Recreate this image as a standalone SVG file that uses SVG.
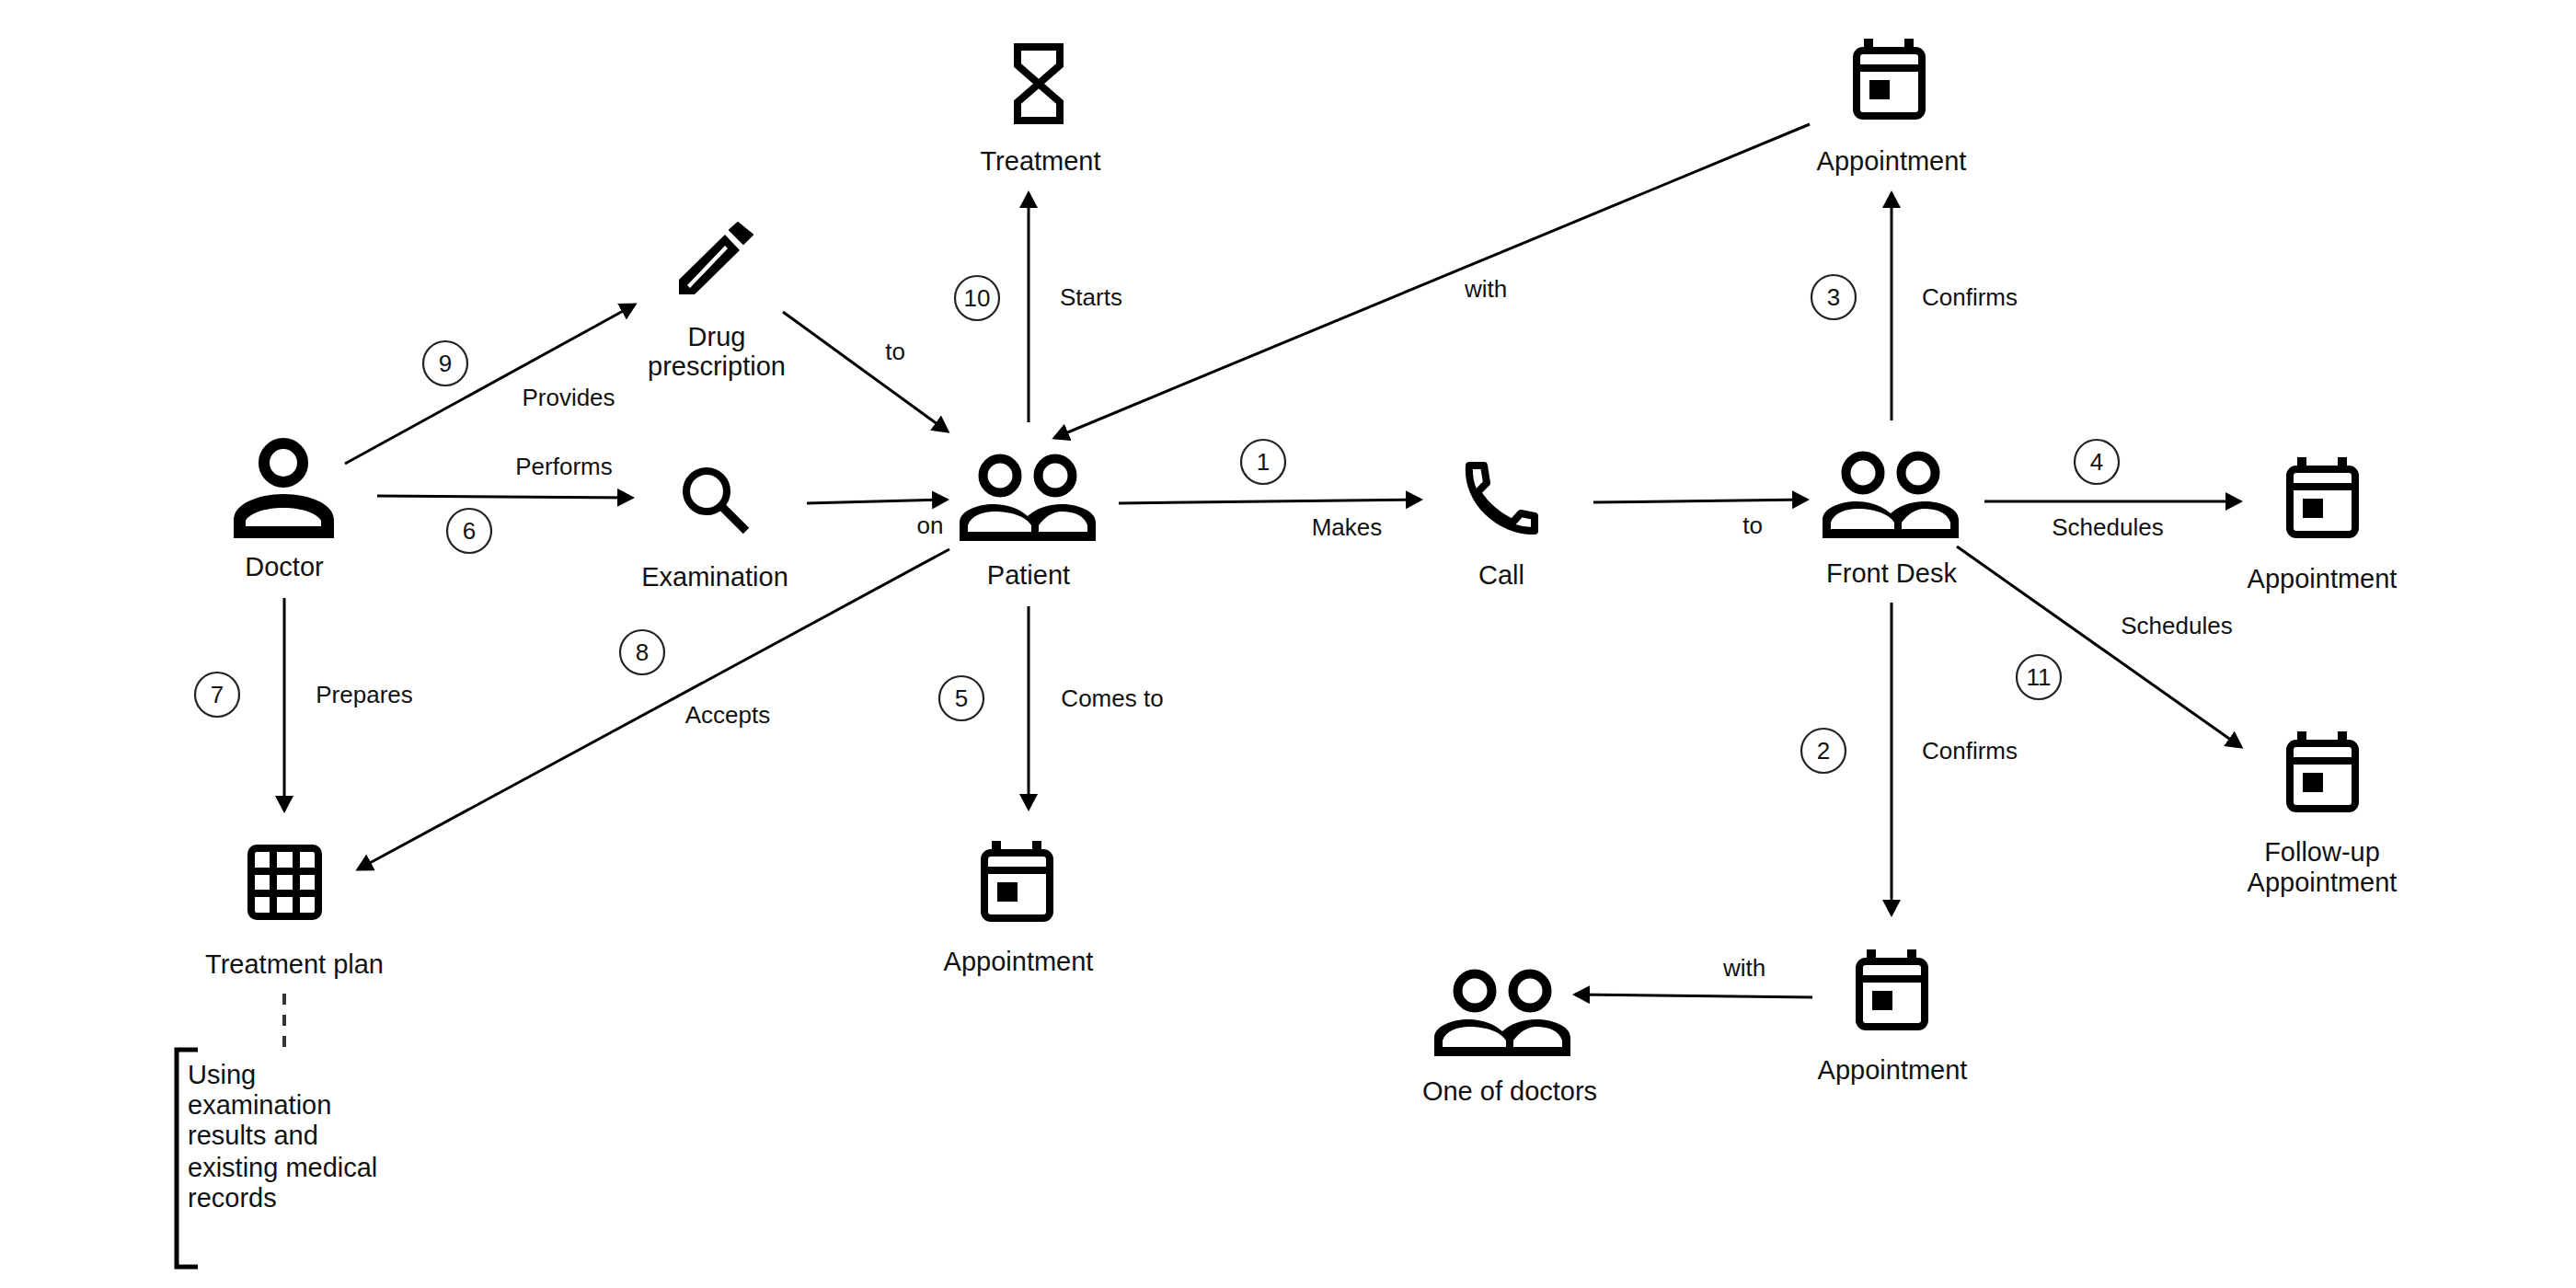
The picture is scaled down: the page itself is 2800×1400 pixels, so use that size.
<svg xmlns="http://www.w3.org/2000/svg" width="2800" height="1400" viewBox="0 0 2800 1400">
<style>
text{font-family:"Liberation Sans",Arial,sans-serif;fill:#111}
.n{font-size:29px;text-anchor:middle}
.l{font-size:26px;text-anchor:middle}
.b{font-size:26px;text-anchor:middle}
.c{fill:none;stroke:#000;stroke-width:3;marker-end:url(#a)}
.k{fill:none;stroke:#222;stroke-width:2.2}
</style>
<defs>
<marker id="a" markerUnits="userSpaceOnUse" markerWidth="22" markerHeight="22" refX="16" refY="10" orient="auto"><path d="M0 0L19 10L0 20Z" fill="#000"/></marker>
<g id="cal">
<rect x="4" y="13" width="71" height="71" rx="7" fill="none" stroke="#000" stroke-width="8"/>
<rect x="4" y="28" width="71" height="8" fill="#000"/>
<rect x="12" y="0" width="10" height="14" fill="#000"/>
<rect x="56" y="0" width="10" height="14" fill="#000"/>
<rect x="18" y="45" width="22" height="21" fill="#000"/>
</g>
<g id="users">
<circle cx="44" cy="24" r="18.5" fill="none" stroke="#000" stroke-width="10"/>
<circle cx="104" cy="24" r="18.5" fill="none" stroke="#000" stroke-width="10"/>
<path fill-rule="evenodd" d="M0 95V75C0 62 20 55 37 55C52 55 65 60 74 68C83 60 96 55 111 55C128 55 148 62 148 75V95ZM9 85H78V78C72 68 55 63 38 63C25 63 12 68 9 78ZM86 85H139V78C136 68 125 63 111 63C100 63 92 70 86 78Z" fill="#000"/>
</g>
</defs>
<g id="connectors">
<path class="c" d="M375 504L690 331"/>
<path class="c" d="M410 539L687 541"/>
<path class="c" d="M877 547L1029 543"/>
<path class="c" d="M851 339L1030 469"/>
<path class="c" d="M309 650V881"/>
<path class="c" d="M1032 597L389 945"/>
<path class="c" d="M1118 459V210"/>
<path class="c" d="M1118 659V879"/>
<path class="c" d="M1967 135L1146 476"/>
<path class="c" d="M1216 547L1544 543"/>
<path class="c" d="M1732 546L1964 543"/>
<path class="c" d="M2056 457V210"/>
<path class="c" d="M2157 545H2435"/>
<path class="c" d="M2127 594L2436 812"/>
<path class="c" d="M2056 655V994"/>
<path class="c" d="M1970 1084L1712 1081"/>
<path d="M309 1080V1140" fill="none" stroke="#333" stroke-width="4" stroke-dasharray="12 11"/>
</g>
<g id="doctor">
<circle cx="308" cy="503" r="21" fill="none" stroke="#000" stroke-width="12"/>
<path fill-rule="evenodd" d="M254 585V565C254 548 280 537 308 537C337 537 363 548 363 565V585ZM267 572H349V566C345 558 328 552 308 552C288 552 271 558 267 566Z" fill="#000"/>
<text class="n" x="309" y="626">Doctor</text>
</g>
<g id="drug">
<path fill-rule="evenodd" d="M738 320V304L788 255L804 272L755 320ZM747 310L750 313L791 270L788 267Z" fill="#000"/>
<path d="M802 242L818 255L808 265L793 250Z" fill="#000" stroke="#000" stroke-width="2" stroke-linejoin="round"/>
<text class="n" x="779" y="376">Drug</text>
<text class="n" x="779" y="408">prescription</text>
</g>
<g id="examination">
<circle cx="768" cy="534" r="22" fill="none" stroke="#000" stroke-width="8"/>
<path d="M784 550L811 577" fill="none" stroke="#000" stroke-width="9"/>
<text class="n" x="777" y="637">Examination</text>
</g>
<g id="patient">
<use href="#users" x="1043" y="493"/>
<text class="n" x="1118" y="635">Patient</text>
</g>
<g id="call">
<path d="M1597 506L1613 506L1616 525L1606 535C1615 550 1630 562 1644 568L1653 558L1668 561L1668 577C1630 578 1594 545 1597 506Z" fill="none" stroke="#000" stroke-width="8" stroke-linejoin="round"/>
<text class="n" x="1632" y="635">Call</text>
</g>
<g id="frontdesk">
<use href="#users" x="1981" y="490"/>
<text class="n" x="2056" y="633">Front Desk</text>
</g>
<g id="treatment">
<path d="M1106 51H1152V71L1129 91L1152 111V131H1106V111L1129 91L1106 71Z" fill="none" stroke="#000" stroke-width="8"/>
<text class="n" x="1131" y="185">Treatment</text>
</g>
<g id="appt-top">
<use href="#cal" x="2014" y="42"/>
<text class="n" x="2056" y="185">Appointment</text>
</g>
<g id="appt-right">
<use href="#cal" x="2485" y="497"/>
<text class="n" x="2524" y="639">Appointment</text>
</g>
<g id="followup">
<use href="#cal" x="2485" y="795"/>
<text class="n" x="2524" y="936">Follow-up</text>
<text class="n" x="2524" y="969">Appointment</text>
</g>
<g id="appt-bottom">
<use href="#cal" x="2017" y="1032"/>
<text class="n" x="2057" y="1173">Appointment</text>
</g>
<g id="appt-patient">
<use href="#cal" x="1066" y="914"/>
<text class="n" x="1107" y="1055">Appointment</text>
</g>
<g id="doctors">
<use href="#users" x="1559" y="1053"/>
<text class="n" x="1641" y="1196">One of doctors</text>
</g>
<g id="plan">
<rect x="273" y="922" width="73" height="74" rx="6" fill="none" stroke="#000" stroke-width="8"/>
<path d="M273 947H346M273 971H346M297 922V996M322 922V996" fill="none" stroke="#000" stroke-width="8"/>
<text class="n" x="320" y="1058">Treatment plan</text>
</g>
<g id="note">
<path d="M215 1141H192V1377H215" fill="none" stroke="#000" stroke-width="5"/>
<text class="n" style="text-anchor:start" x="204" y="1178">Using</text>
<text class="n" style="text-anchor:start" x="204" y="1211">examination</text>
<text class="n" style="text-anchor:start" x="204" y="1244">results and</text>
<text class="n" style="text-anchor:start" x="204" y="1279">existing medical</text>
<text class="n" style="text-anchor:start" x="204" y="1312">records</text>
</g>
<g id="edge-labels">
<text class="l" x="618" y="441">Provides</text>
<text class="l" x="613" y="516">Performs</text>
<text class="l" x="396" y="764">Prepares</text>
<text class="l" x="973" y="391">to</text>
<text class="l" x="1011" y="580">on</text>
<text class="l" x="791" y="786">Accepts</text>
<text class="l" x="1186" y="332">Starts</text>
<text class="l" x="1209" y="768">Comes to</text>
<text class="l" x="1615" y="323">with</text>
<text class="l" x="1464" y="582">Makes</text>
<text class="l" x="1905" y="580">to</text>
<text class="l" x="2141" y="332">Confirms</text>
<text class="l" x="2291" y="582">Schedules</text>
<text class="l" x="2366" y="689">Schedules</text>
<text class="l" x="2141" y="825">Confirms</text>
<text class="l" x="1896" y="1061">with</text>
</g>
<g id="steps">
<g id="s1"><circle class="k" cx="1373" cy="502" r="24"/><text class="b" x="1373" y="511">1</text></g>
<g id="s2"><circle class="k" cx="1982" cy="816" r="24"/><text class="b" x="1982" y="825">2</text></g>
<g id="s3"><circle class="k" cx="1993" cy="323" r="24"/><text class="b" x="1993" y="332">3</text></g>
<g id="s4"><circle class="k" cx="2279" cy="502" r="24"/><text class="b" x="2279" y="511">4</text></g>
<g id="s5"><circle class="k" cx="1045" cy="759" r="24"/><text class="b" x="1045" y="768">5</text></g>
<g id="s6"><circle class="k" cx="510" cy="577" r="24"/><text class="b" x="510" y="586">6</text></g>
<g id="s7"><circle class="k" cx="236" cy="755" r="24"/><text class="b" x="236" y="764">7</text></g>
<g id="s8"><circle class="k" cx="698" cy="709" r="24"/><text class="b" x="698" y="718">8</text></g>
<g id="s9"><circle class="k" cx="484" cy="395" r="24"/><text class="b" x="484" y="404">9</text></g>
<g id="s10"><circle class="k" cx="1062" cy="324" r="24"/><text class="b" x="1062" y="333">10</text></g>
<g id="s11"><circle class="k" cx="2216" cy="736" r="24"/><text class="b" x="2216" y="745">11</text></g>
</g>
</svg>
